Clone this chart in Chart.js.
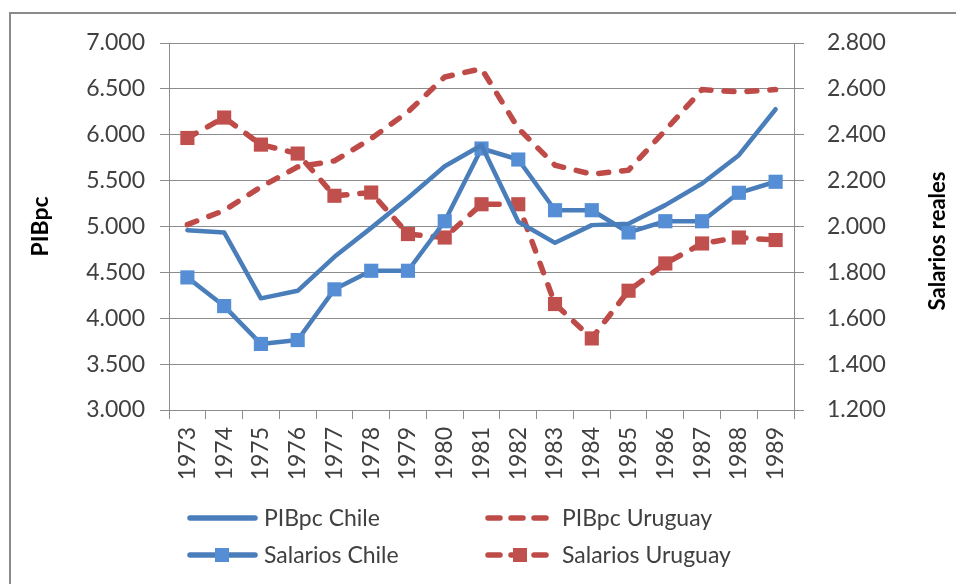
<!DOCTYPE html>
<html>
<head>
<meta charset="utf-8">
<script src="https://cdn.jsdelivr.net/npm/chart.js@4/dist/chart.umd.min.js"></script>
<style>
  html, body { margin: 0; padding: 0; background: #fff; }
  #wrap { position: relative; width: 956px; height: 584px; overflow: hidden; }
  #frame { position: absolute; left: 9px; top: 12px; width: 1000px; height: 700px;
           border-left: 2px solid #8a8a8a; border-top: 2px solid #8a8a8a; }
  canvas { position: absolute; left: 0; top: 0; }
</style>
</head>
<body>
<div id="wrap">
  <div id="frame"></div>
  <canvas id="chart" width="956" height="584"></canvas>
</div>
<script>
const years = ['1973','1974','1975','1976','1977','1978','1979','1980','1981','1982','1983','1984','1985','1986','1987','1988','1989'];

// PIB per capita (left axis)
const pibChile   = [4960, 4935, 4217, 4299, 4670, 4985, 5310, 5657, 5886, 5051, 4822, 5015, 5030, 5233, 5469, 5777, 6278];
const pibUruguay = [5020, 5175, 5432, 5650, 5715, 5959, 6249, 6630, 6720, 6070, 5668, 5570, 5614, 6049, 6492, 6467, 6492];

// Salarios reales (right axis)
const salChile   = [1778, 1653, 1488, 1505, 1726, 1807, 1807, 2023, 2340, 2292, 2071, 2071, 1974, 2023, 2023, 2147, 2195];
const salUruguay = [2386, 2475, 2357, 2318, 2134, 2148, 1967, 1952, 2097, 2097, 1662, 1512, 1720, 1839, 1926, 1952, 1941];

const leftTicks  = [3000, 3500, 4000, 4500, 5000, 5500, 6000, 6500, 7000];
const rightTicks = [1200, 1400, 1600, 1800, 2000, 2200, 2400, 2600, 2800];

const BLUE = '#4A7EBB', BLUE_MK = '#558ED5';
const RED = '#BE4B48', RED_MK = '#C0504D';
const GRID = '#8c8c8c';
const TXT = '#404040';
const DASH = [10, 13];

Chart.defaults.font.family = 'Lato, "Open Sans", sans-serif';
Chart.defaults.color = TXT;

const fmt = v => String(v).replace(/^(\d)(\d{3})$/, '$1.$2');

// draws the two-column legend and the right axis title (reads bottom to top)
const extras = {
  id: 'extras',
  afterDraw(chart) {
    const ctx = chart.ctx;
    const items = [
      { ds: 0, x: 187, y: 518 },
      { ds: 1, x: 485, y: 518 },
      { ds: 2, x: 187, y: 555 },
      { ds: 3, x: 485, y: 555 }
    ];
    ctx.save();
    items.forEach(it => {
      const d = chart.data.datasets[it.ds];
      ctx.strokeStyle = d.borderColor;
      ctx.lineWidth = 5.5;
      ctx.lineCap = 'round';
      ctx.setLineDash(d.borderDash ? [12, 11] : []);
      ctx.beginPath();
      ctx.moveTo(it.x + 3, it.y);
      ctx.lineTo(it.x + 68, it.y);
      ctx.stroke();
      ctx.setLineDash([]);
      if (d.pointRadius > 0) {
        ctx.fillStyle = d.pointBackgroundColor;
        ctx.fillRect(it.x + 35 - 7, it.y - 7, 14, 14);
      }
      ctx.fillStyle = TXT;
      ctx.font = '23px Lato, sans-serif';
      ctx.textBaseline = 'middle';
      ctx.textAlign = 'left';
      ctx.fillText(d.label, it.x + 77, it.y + 1);
    });
    ctx.translate(938, 241);
    ctx.rotate(-Math.PI / 2);
    ctx.font = 'bold 22px Lato, sans-serif';
    ctx.fillStyle = '#000';
    ctx.textAlign = 'center';
    ctx.textBaseline = 'middle';
    ctx.fillText('Salarios reales', 0, 0);
    ctx.restore();
  }
};

new Chart(document.getElementById('chart'), {
  type: 'line',
  data: {
    labels: years,
    datasets: [
      { label: 'PIBpc Chile', data: pibChile, yAxisID: 'y', borderColor: BLUE, borderWidth: 4.5,
        pointRadius: 0, tension: 0, borderCapStyle: 'round', borderJoinStyle: 'round' },
      { label: 'PIBpc Uruguay', data: pibUruguay, yAxisID: 'y', borderColor: RED, borderWidth: 5.5,
        borderDash: DASH, borderCapStyle: 'round', pointRadius: 0, tension: 0 },
      { label: 'Salarios Chile', data: salChile, yAxisID: 'y1', borderColor: BLUE, borderWidth: 4.5,
        pointStyle: 'rect', pointRadius: 10, pointBackgroundColor: BLUE_MK, pointBorderColor: BLUE_MK,
        pointBorderWidth: 0, tension: 0, borderJoinStyle: 'round' },
      { label: 'Salarios Uruguay', data: salUruguay, yAxisID: 'y1', borderColor: RED, borderWidth: 5.5,
        borderDash: DASH, borderCapStyle: 'round', pointStyle: 'rect', pointRadius: 10,
        pointBackgroundColor: RED_MK, pointBorderColor: RED_MK, pointBorderWidth: 0, tension: 0 }
    ]
  },
  options: {
    responsive: false,
    animation: false,
    layout: { padding: { top: 43, left: 0, right: 0, bottom: 0 } },
    plugins: { legend: { display: false }, tooltip: { enabled: false } },
    scales: {
      x: {
        offset: true,
        grid: { offset: true, drawOnChartArea: false, drawTicks: true, tickLength: 9, color: GRID },
        border: { color: GRID },
        ticks: { minRotation: 90, maxRotation: 90, padding: 8, font: { size: 23 }, color: TXT },
        afterFit: s => { s.height = 174; }
      },
      y: {
        position: 'left',
        min: 3000, max: 7000,
        afterBuildTicks: s => { s.ticks = leftTicks.map(v => ({ value: v })); },
        grid: { color: GRID, tickLength: 9 },
        border: { color: GRID },
        ticks: { padding: 15, font: { size: 23 }, color: TXT, callback: v => fmt(v) },
        title: { display: true, text: 'PIBpc', color: '#000', font: { size: 23, weight: 'bold' },
                 padding: { top: 27, bottom: 0 } },
        afterFit: s => { s.width = 169; }
      },
      y1: {
        position: 'right',
        min: 1200, max: 2800,
        afterBuildTicks: s => { s.ticks = rightTicks.map(v => ({ value: v })); },
        grid: { drawOnChartArea: false, color: GRID, tickLength: 10 },
        border: { color: GRID },
        ticks: { padding: 23, font: { size: 23 }, color: TXT, callback: v => fmt(v) },
        afterFit: s => { s.width = 162; }
      }
    }
  },
  plugins: [extras]
});
</script>
</body>
</html>
